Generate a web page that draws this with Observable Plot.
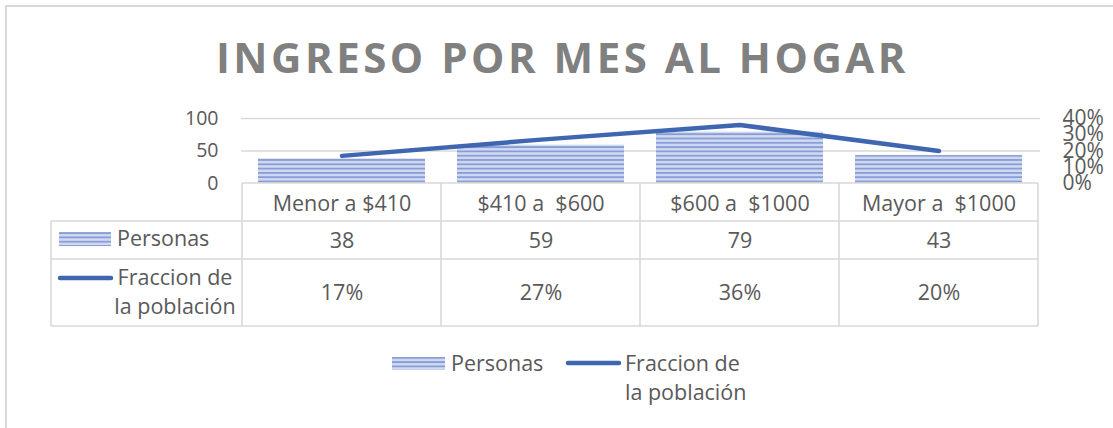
<!DOCTYPE html>
<html><head><meta charset="utf-8">
<script src="https://cdn.jsdelivr.net/npm/d3@7"></script>
<script src="https://cdn.jsdelivr.net/npm/@observablehq/plot@0.6"></script>
<style>
body{margin:0;background:#fff;font-family:"Open Sans",sans-serif;}
#wrap{position:relative;width:1113px;height:428px;overflow:hidden;background:#fff;}
#frame{position:absolute;left:5px;top:5px;width:1130px;height:450px;border:2px solid #d9d9d9;box-sizing:border-box;}
#title{position:absolute;left:12px;top:36px;width:1101px;text-align:center;font-weight:700;font-size:42px;line-height:42px;letter-spacing:3.5px;color:#808080;white-space:nowrap;}
#chart{position:absolute;left:0;top:0;}
#chart svg text{white-space:pre;}
</style></head><body>
<div id="wrap"><div id="frame"></div><div id="chart"></div><div id="title">INGRESO POR MES AL HOGAR</div></div>
<script>
const categories = ["Menor a $410", "$410 a  $600", "$600 a  $1000", "Mayor a  $1000"];
const personas = [38, 59, 79, 43];
const fraccion = [17, 27, 36, 20]; // percent of population
const leftTicks = [0, 50, 100];
const rightTicks = [0, 10, 20, 30, 40];
const seriesNames = ["Personas", "Fraccion de la población"];
const fraccionLines = ["Fraccion de", "la población"];

const leftMax = 100, rightMax = 40;
const toLeft = p => p / rightMax * leftMax;
const data = categories.map((c, i) => ({cat: c, personas: personas[i], frac: fraccion[i]}));

const textColor = "#595959";
const lineColor = "#3f66b0";
const gridColor = "#d9d9d9";
const cellFont = 21.5;

const chart = Plot.plot({
  width: 1113, height: 428,
  marginLeft: 241, marginRight: 73, marginTop: 118, marginBottom: 245,
  style: {fontFamily: "Open Sans", fontSize: "20px", color: textColor, background: "transparent", overflow: "visible"},
  x: {domain: categories, paddingInner: 0.16, paddingOuter: 0.08, axis: null},
  y: {domain: [0, leftMax]},
  marks: [
    Plot.gridY(leftTicks.filter(d => d > 0), {stroke: gridColor, strokeOpacity: 1, strokeWidth: 1.5}),
    Plot.axisY(leftTicks, {anchor: "left", tickSize: 0, tickPadding: 23, fontSize: 19.5, label: null, fill: textColor}),
    Plot.axisY(rightTicks.map(toLeft), {anchor: "right", tickSize: 0, tickPadding: 22, fontSize: 21, label: null, fill: textColor,
      tickFormat: d => Math.round(d / leftMax * rightMax) + "%"}),
    Plot.barY(data, {x: "cat", y: "personas", fill: "url(#stripes)"}),
    Plot.lineY(data, {x: "cat", y: d => toLeft(d.frac), stroke: lineColor, strokeWidth: 4.5, strokeLinecap: "round", strokeLinejoin: "round"}),
    Plot.text(data, {x: "cat", text: "cat", frameAnchor: "bottom", lineAnchor: "middle", dy: 20.5, fill: textColor, fontSize: cellFont}),
    Plot.text(data, {x: "cat", text: d => String(d.personas), frameAnchor: "bottom", lineAnchor: "middle", dy: 57.5, fill: textColor, fontSize: cellFont}),
    Plot.text(data, {x: "cat", text: d => d.frac + "%", frameAnchor: "bottom", lineAnchor: "middle", dy: 109.5, fill: textColor, fontSize: cellFont})
  ]
});

document.getElementById("chart").appendChild(chart);

const svg = d3.select(chart);
const defs = svg.insert("defs", ":first-child");
const pat = defs.append("pattern").attr("id", "stripes").attr("patternUnits", "userSpaceOnUse")
  .attr("width", 8).attr("height", 4.3);
pat.append("rect").attr("width", 8).attr("height", 4.3).attr("fill", "#d0d9f1");
pat.append("rect").attr("width", 8).attr("height", 1.8).attr("fill", "#889dd5");

// Data table grid
const xs = chart.scale("x");
const ys = chart.scale("y");
const step = xs.step, bw = xs.bandwidth;
const colLeft = c => xs.apply(c) - (step - bw) / 2;
const edges = categories.map(colLeft).concat([colLeft(categories[categories.length - 1]) + step]);
const yTop = ys.apply(0);
const rowY = [yTop, 221, 259, 326];
const tableLeft = 51;
const g = svg.append("g").attr("stroke", gridColor).attr("stroke-width", 1.6).attr("fill", "none");
g.append("line").attr("x1", edges[0]).attr("x2", edges[edges.length - 1]).attr("y1", rowY[0]).attr("y2", rowY[0]);
rowY.slice(1).forEach(y => g.append("line").attr("x1", tableLeft).attr("x2", edges[edges.length - 1]).attr("y1", y).attr("y2", y));
edges.forEach(x => g.append("line").attr("x1", x).attr("x2", x).attr("y1", rowY[0]).attr("y2", rowY[3]));
g.append("line").attr("x1", tableLeft).attr("x2", tableLeft).attr("y1", rowY[1]).attr("y2", rowY[3]);

// Table row headers (legend keys)
const lg = svg.append("g").attr("font-family", "Open Sans").attr("font-size", cellFont).attr("fill", textColor).attr("text-anchor", "start");
lg.append("rect").attr("x", 59).attr("y", 232).attr("width", 52).attr("height", 14).attr("fill", "url(#stripes)");
lg.append("text").attr("x", 117).attr("y", 246).attr("text-anchor", "start").text(seriesNames[0]);
lg.append("line").attr("x1", 60).attr("x2", 111).attr("y1", 278).attr("y2", 278)
  .attr("stroke", lineColor).attr("stroke-width", 4.5).attr("stroke-linecap", "round");
lg.append("text").attr("x", 175).attr("y", 285).attr("text-anchor", "middle").text(fraccionLines[0]);
lg.append("text").attr("x", 175).attr("y", 314).attr("text-anchor", "middle").text(fraccionLines[1]);

// Bottom legend
const bl = svg.append("g").attr("font-family", "Open Sans").attr("font-size", cellFont).attr("fill", textColor).attr("text-anchor", "start");
bl.append("rect").attr("x", 392).attr("y", 357).attr("width", 53).attr("height", 13).attr("fill", "url(#stripes)");
bl.append("text").attr("x", 451).attr("y", 371).attr("text-anchor", "start").text(seriesNames[0]);
bl.append("line").attr("x1", 568).attr("x2", 619).attr("y1", 363).attr("y2", 363)
  .attr("stroke", lineColor).attr("stroke-width", 4.5).attr("stroke-linecap", "round");
bl.append("text").attr("x", 625).attr("y", 371).attr("text-anchor", "start").text(fraccionLines[0]);
bl.append("text").attr("x", 625).attr("y", 400).attr("text-anchor", "start").text(fraccionLines[1]);
</script>
</body></html>
